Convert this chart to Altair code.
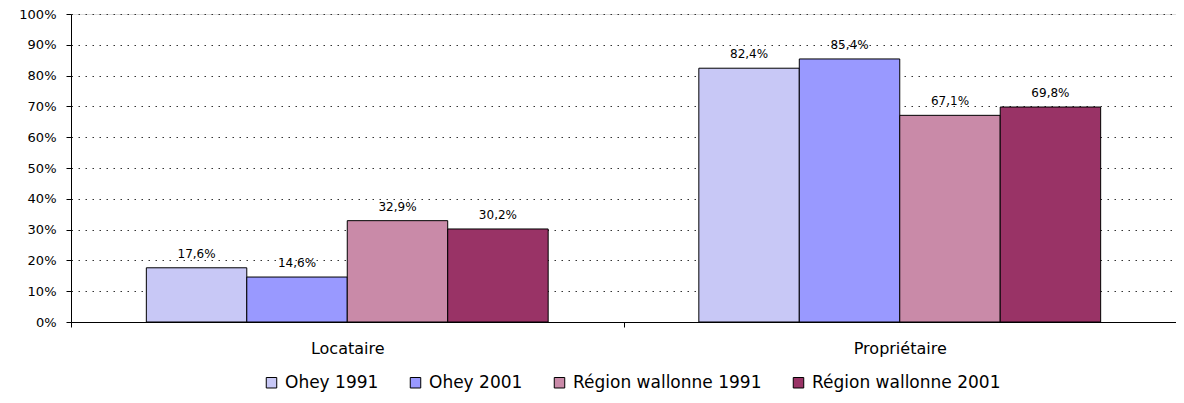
import altair as alt
import pandas as pd

categories = ["Locataire", "Propriétaire"]
series = ["Ohey 1991", "Ohey 2001", "Région wallonne 1991", "Région wallonne 2001"]
locataire = [17.6, 14.6, 32.9, 30.2]
proprietaire = [82.4, 85.4, 67.1, 69.8]
colors = ["#C8C8F6", "#9999FF", "#C98AA8", "#993366"]
y_ticks = [0, 0.1, 0.2, 0.3, 0.4, 0.5, 0.6, 0.7, 0.8, 0.9, 1.0]

rows = []
for cat, vals in zip(categories, [locataire, proprietaire]):
    for s, v in zip(series, vals):
        rows.append({"cat": cat, "series": s, "value": v / 100,
                     "label": f"{v:.1f}%".replace(".", ",")})
df = pd.DataFrame(rows)

FONT = "DejaVu Sans"

x = alt.X("cat:N", sort=categories, title=None,
          scale=alt.Scale(paddingInner=0, paddingOuter=0),
          axis=alt.Axis(labelAngle=0, tickBand="extent", labelFontSize=16,
                        labelPadding=13, tickSize=5, labelColor="#000",
                        domainColor="#000", tickColor="#000", grid=False,
                        labelFont=FONT))
xo = alt.XOffset("series:N", sort=series,
                 scale=alt.Scale(paddingInner=0, paddingOuter=0.75))
y = alt.Y("value:Q", title=None,
          scale=alt.Scale(domain=[0, 1], nice=False),
          axis=alt.Axis(values=y_ticks, format=".0%", labelFontSize=13,
                        labelPadding=10, tickSize=5, labelColor="#000",
                        domainColor="#000", tickColor="#000",
                        grid=True, gridColor="#333", gridDash=[1.5, 5.5],
                        gridWidth=1, labelFont=FONT))

bars = alt.Chart(df).mark_bar(stroke="#000", strokeWidth=1).encode(
    x=x, xOffset=xo, y=y,
    color=alt.Color("series:N", sort=series,
                    scale=alt.Scale(domain=series, range=colors),
                    legend=alt.Legend(title=None, orient="none",
                                      legendX=192, legendY=360,
                                      direction="horizontal",
                                      symbolType="square", symbolSize=110,
                                      symbolStrokeColor="#000",
                                      symbolStrokeWidth=1,
                                      labelFontSize=17, labelFont=FONT,
                                      labelColor="#000", columnPadding=28,
                                      labelOffset=5, labelLimit=300)),
)

labels = alt.Chart(df).mark_text(dy=-7, fontSize=12, font=FONT,
                                 color="#000", baseline="bottom").encode(
    x=x, xOffset=xo, y=y, text="label:N"
)

chart = alt.layer(bars, labels).properties(
    width=1105, height=308,
    autosize=alt.AutoSizeParams(type="none"),
    padding={"left": 63, "top": 6, "right": 0, "bottom": 80},
).configure_view(stroke=None).configure(background="white")

chart.save("out.html", embed_options={"renderer": "svg", "actions": False})
